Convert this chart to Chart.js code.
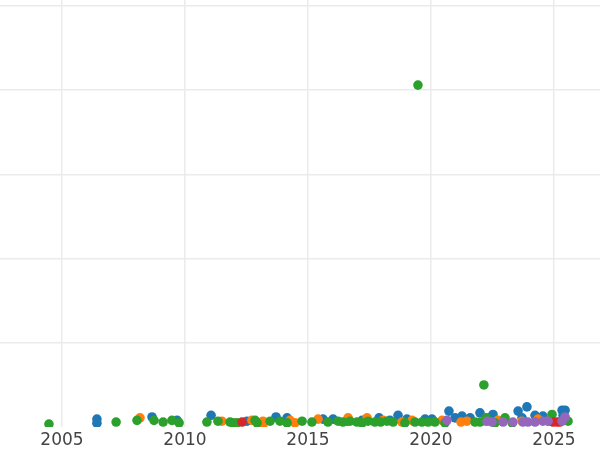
<!DOCTYPE html>
<html>
<head>
<meta charset="utf-8">
<script src="https://cdn.jsdelivr.net/npm/chart.js@4"></script>
<style>
  html, body { margin: 0; padding: 0; background: #fff; }
  #wrap { width: 600px; height: 450px; }
</style>
</head>
<body>
<div id="wrap"><canvas id="chart" width="600" height="450"></canvas></div>
<script>
    'use strict';

    // x = decimal year, y = value
    var blueSeries = [
        [2006.42, 9.5], [2006.42, 4.7], [2008.66, 12], [2009.68, 8], [2011.06, 14],
        [2012.52, 7], [2013.70, 12], [2014.15, 11], [2015.61, 9.5], [2016.02, 9.5],
        [2016.60, 7], [2017.20, 8], [2017.89, 11], [2018.33, 8], [2018.66, 14],
        [2019.02, 9.5], [2019.76, 9.5], [2020.04, 9.5], [2020.73, 19], [2020.98, 11],
        [2021.26, 13], [2021.59, 11], [2021.99, 17], [2022.40, 11], [2022.52, 15],
        [2023.54, 19], [2023.70, 11], [2023.90, 24], [2024.23, 14], [2024.55, 13],
        [2025.33, 20], [2025.45, 20], [2025.37, 14]
    ];
    var orangeSeries = [
        [2008.17, 11], [2011.50, 7], [2012.72, 8], [2013.17, 7], [2013.17, 3],
        [2014.27, 8], [2014.47, 5], [2015.41, 9.5], [2016.63, 11], [2017.40, 11],
        [2018.05, 8], [2018.82, 6], [2019.23, 8], [2020.45, 8], [2021.22, 6],
        [2021.46, 7], [2022.20, 7], [2022.72, 8], [2023.70, 7], [2024.35, 9.5],
        [2024.76, 7]
    ];
    var greenSeries = [
        [2004.47, 3.6], [2007.20, 6], [2008.05, 8], [2008.74, 8], [2009.11, 6],
        [2009.47, 8], [2009.76, 5], [2010.89, 6], [2011.34, 7], [2011.83, 6],
        [2011.95, 5], [2012.11, 5], [2012.85, 8], [2012.93, 5], [2013.46, 7],
        [2013.86, 7], [2014.15, 5], [2014.76, 7], [2015.16, 6], [2015.81, 6],
        [2016.22, 7], [2016.42, 6], [2016.71, 7], [2016.99, 6], [2017.20, 5],
        [2017.44, 7], [2017.72, 6], [2017.95, 6], [2018.21, 7], [2018.46, 6],
        [2018.94, 5], [2019.35, 6], [2019.47, 406], [2019.63, 6], [2019.88, 6],
        [2020.16, 6], [2020.57, 5], [2021.79, 6], [2021.99, 6], [2022.15, 50],
        [2022.24, 11], [2022.60, 5], [2023.01, 11], [2023.30, 5], [2024.92, 15],
        [2025.57, 7]
    ];
    var redSeries = [
        [2012.32, 6], [2024.96, 6], [2025.12, 6], [2025.24, 6]
    ];
    var purpleSeries = [
        [2020.65, 8], [2022.28, 7], [2022.48, 6], [2022.93, 6], [2023.33, 6],
        [2023.74, 6], [2023.94, 6], [2024.23, 6], [2024.55, 7], [2024.76, 7],
        [2025.33, 7], [2025.45, 12]
    ];
    var xTickYears = [2005, 2010, 2015, 2020, 2025];
    var yGridValues = [100, 200, 300, 400, 500];

    function toPoints(arr) {
        return arr.map(function(p) {
            return { x: p[0], y: p[1] };
        });
    }

    function dotSet(name, arr, color) {
        return {
            label: name,
            data: toPoints(arr),
            backgroundColor: color,
            borderWidth: 0,
            pointRadius: 4.8,
            pointHoverRadius: 4.8,
            clip: 0
        };
    }

    var gridColor = '#ebebeb';

    // first dataset is drawn on top
    new Chart(document.getElementById('chart'), {
        type: 'scatter',
        data: {
            datasets: [
                dotSet('purple', purpleSeries, '#9467bd'),
                dotSet('red', redSeries, '#d62728'),
                dotSet('green', greenSeries, '#2ca02c'),
                dotSet('orange', orangeSeries, '#ff7f0e'),
                dotSet('blue', blueSeries, '#1f77b4')
            ]
        },
        options: {
            responsive: false,
            animation: false,
            // x-axis box runs a little past the canvas bottom
            layout: { padding: { top: 0, left: 0, right: 0, bottom: -3.5 }, autoPadding: false },
            plugins: {
                legend: { display: false },
                tooltip: { enabled: false }
            },
            scales: {
                x: {
                    type: 'linear',
                    min: 2002.48,
                    max: 2026.87,
                    afterBuildTicks: function(scale) {
                        scale.ticks = xTickYears.map(function(v) { return { value: v }; });
                    },
                    ticks: {
                        padding: 3,
                        color: '#444',
                        font: { family: 'DejaVu Sans', size: 17 },
                        callback: function(v) { return String(v); }
                    },
                    grid: { color: gridColor, lineWidth: 1.5, drawTicks: false },
                    border: { display: false }
                },
                y: {
                    min: 0,
                    max: 507,
                    afterBuildTicks: function(scale) {
                        scale.ticks = yGridValues.map(function(v) { return { value: v }; });
                    },
                    ticks: { display: false },
                    grid: { color: gridColor, lineWidth: 1.5, drawTicks: false },
                    border: { display: false }
                }
            }
        }
    });
</script>
</body>
</html>
